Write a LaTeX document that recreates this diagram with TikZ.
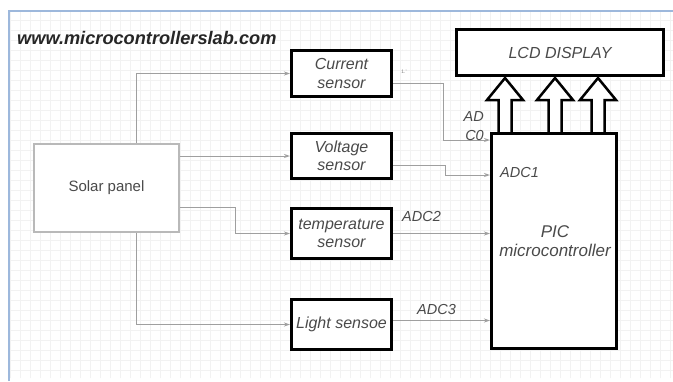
\documentclass[tikz,border=0pt]{standalone}
\usepackage{fontspec}
\setmainfont{Liberation Sans}
\usetikzlibrary{arrows.meta,calc}
\definecolor{txt}{HTML}{4A4A4A}
\definecolor{frameblue}{HTML}{9DB8DC}
\tikzset{
  blk/.style={draw=black, line width=3pt, fill=white, inner sep=1pt, align=center,
    font=\fontsize{16}{18.5}\selectfont\itshape, text=txt},
  solarbox/.style={draw=gray!55, line width=2.5pt, fill=white, align=center,
    font=\fontsize{15}{17}\selectfont, text=txt},
  conn/.style={draw=gray!75, line width=0.8pt, -{Stealth[length=6pt,width=4pt,open]}},
  lbl/.style={font=\fontsize{14.5}{15}\selectfont\itshape, text=txt, inner sep=0pt},
  hollow/.style={draw=black, line width=2.5pt, fill=white, line join=miter}
}
\begin{document}
\begin{tikzpicture}[x=1pt,y=-1pt]
\useasboundingbox (0,0) rectangle (673,381);
\fill[white] (0,0) rectangle (673,381);
% faint grid
\draw[gray!10, line width=0.4pt] (10,12) grid[step=10pt] (673,378);
% frame
\draw[frameblue, line width=1.5pt] (9,381) -- (9,11) -- (673,11);
% title
\node[anchor=west, inner sep=0pt, font=\fontsize{18.2}{20}\selectfont\bfseries\itshape, text=black!85] (title) at (17,38) {www.microcontrollerslab.com};

% hollow arrows (drawn before boxes)
\foreach \cx in {505,555,598} {
  \draw[hollow] ({\cx-6.5},132) -- ({\cx-6.5},100) -- ({\cx-18},100) -- (\cx,78)
    -- ({\cx+18},100) -- ({\cx+6.5},100) -- ({\cx+6.5},132);
}

% boxes
\node[solarbox, minimum width=145pt, minimum height=88pt] (solar) at (106.5,188) {Solar panel};
\node[blk, minimum width=100pt, minimum height=46pt] (cur) at (341.5,73.5) {Current\\sensor};
\node[blk, minimum width=100pt, minimum height=45pt] (volt) at (341.5,156) {Voltage\\sensor};
\node[blk, minimum width=100pt, minimum height=50pt] (temp) at (341.5,233.5) {temperature\\sensor};
\node[blk, minimum width=100pt, minimum height=50pt] (light) at (341.5,324.5) {Light sensoe};
\node[blk, minimum width=207pt, minimum height=46pt] (lcd) at (560,52.5) {LCD DISPLAY};
\node[blk, minimum width=125pt, minimum height=215pt] (pic) at (554,241) {};
\node[lbl, align=center, font=\fontsize{17}{19}\selectfont\itshape] (pictxt) at (555,241) {PIC\\microcontroller};

% connectors solar -> sensors
\draw[conn] ([xshift=29.5pt]solar.north) |- (cur.west);
\draw[conn] ([yshift=32pt]solar.east) -- (volt.west);
\coordinate (tbend) at (235,207);
\draw[conn] ([yshift=-19pt]solar.east) -- (tbend) |- (temp.west);
\draw[conn] ([xshift=29.5pt]solar.south) |- (light.west);

% connectors sensors -> PIC
\coordinate (b0) at (443,83);
\coordinate (b1) at (445,165);
\draw[conn] ([yshift=-9.5pt]cur.east) -- (b0) |- ([yshift=101pt]pic.west);
\draw[conn] ([yshift=-9pt]volt.east) -- (b1) |- ([yshift=66pt]pic.west);
\draw[conn] (temp.east) -- (temp.east -| pic.west);
\draw[conn] ([yshift=4pt]light.east) -- ([yshift=4pt]light.east -| pic.west);

% labels
\node[lbl, anchor=east] (ad) at (484,117) {AD};
\node[lbl, anchor=east] (c0) at (484,136) {C0};
\node[lbl, anchor=west] (adc1) at (500,173) {ADC1};
\node[lbl, anchor=west] (adc2) at (402,217) {ADC2};
\node[lbl, anchor=west] (adc3) at (417,310) {ADC3};
\node[inner sep=0pt, font=\fontsize{5}{6}\selectfont, text=gray] (dots) at (404,72) {1.'};
\end{tikzpicture}
\end{document}
